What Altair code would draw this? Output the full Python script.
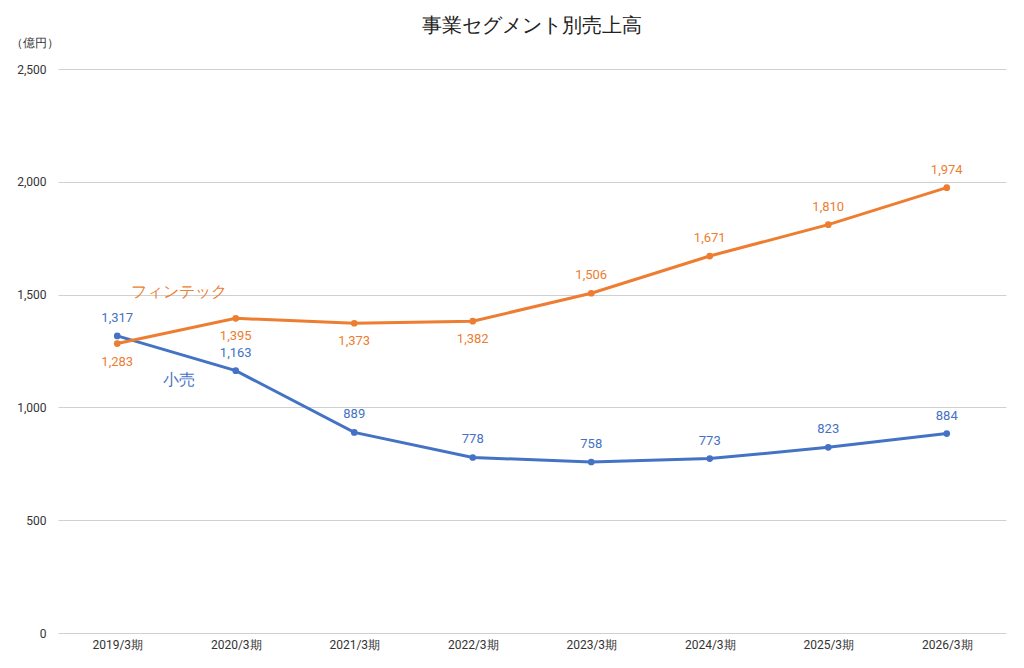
import altair as alt
import pandas as pd

periods = ["2019/3期","2020/3期","2021/3期","2022/3期","2023/3期","2024/3期","2025/3期","2026/3期"]
retail = [1317,1163,889,778,758,773,823,884]
fintech = [1283,1395,1373,1382,1506,1671,1810,1974]
fintech_below = [True,True,True,True,False,False,False,False]

rows = []
for i,p in enumerate(periods):
    rows.append({"period":p,"value":retail[i],"series":"小売","below":False})
    rows.append({"period":p,"value":fintech[i],"series":"フィンテック","below":fintech_below[i]})
df = pd.DataFrame(rows)

FONT = "Roboto"
colors = alt.Scale(domain=["小売","フィンテック"], range=["#4472c4","#ed7d31"])
x = alt.X("period:N", sort=periods, title=None,
          scale=alt.Scale(paddingOuter=0.5),
          axis=alt.Axis(labelAngle=0, ticks=False, domain=False, labelFontSize=12,
                        labelColor="#333", labelFont=FONT, labelPadding=6))
y = alt.Y("value:Q", scale=alt.Scale(domain=[0,2500]),
          axis=alt.Axis(values=[0,500,1000,1500,2000,2500], labelExpr="format(datum.value, ',')",
                        ticks=False, domain=False,
                        gridColor="#d0d0d0", labelFontSize=12, labelColor="#333", labelFont=FONT,
                        labelPadding=12, title="（億円）", titleAngle=0, titleX=-48, titleY=-20,
                        titleAlign="left", titleFontWeight="normal", titleFontSize=12, titleFont=FONT,
                        titleColor="#333"))
col = alt.Color("series:N", scale=colors, legend=None)
base = alt.Chart(df)
lines = base.mark_line(strokeWidth=3).encode(x=x, y=y, color=col)
pts = base.mark_point(filled=True, size=45, opacity=1).encode(x=x, y=y, color=col)
above = base.transform_filter("!datum.below").mark_text(dy=-18, fontSize=13, font=FONT).encode(
    x=x, y=y, color=col, text=alt.Text("value:Q", format=","))
below = base.transform_filter("datum.below").mark_text(dy=18, fontSize=13, font=FONT).encode(
    x=x, y=y, color=col, text=alt.Text("value:Q", format=","))

names = pd.DataFrame({"period":["2019/3期","2019/3期"],"value":[1510,1120],"series":["フィンテック","小売"]})
namelab = alt.Chart(names).mark_text(fontSize=16, font=FONT, dx=62).encode(
    x=x, y=y, color=col, text="series:N")

chart = alt.layer(lines, pts, above, below, namelab).properties(
    width=1008, height=652,
    autosize=alt.AutoSizeParams(type="fit", contains="padding"),
    padding={"left":2,"right":10,"top":8,"bottom":10},
    title=alt.Title("事業セグメント別売上高", fontSize=20, fontWeight="normal", font=FONT, color="#222", offset=0),
).configure_view(stroke=None)
chart.save("out.html", embed_options={"renderer":"svg","actions":False})
